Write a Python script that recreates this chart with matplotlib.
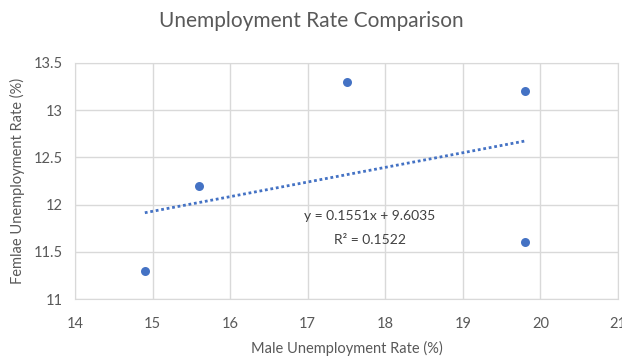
import numpy as np
import matplotlib
matplotlib.use("Agg")
import matplotlib.pyplot as plt

male_rate = [14.9, 15.6, 17.5, 19.8, 19.8]
female_rate = [11.3, 12.2, 13.3, 13.2, 11.6]
x_ticks = [14, 15, 16, 17, 18, 19, 20, 21]
y_ticks = [11, 11.5, 12, 12.5, 13, 13.5]
y_tick_labels = ["11", "11.5", "12", "12.5", "13", "13.5"]

plt.rcParams['font.family'] = ['Lato', 'DejaVu Sans']
text_color = "#595959"
grid_color = "#D9D9D9"
point_color = "#4472C4"

fig = plt.figure(figsize=(6.22, 3.62), dpi=100)
ax = fig.add_axes([0.1206, 0.174, 0.873, 0.652])

ax.scatter(male_rate, female_rate, s=42, color=point_color, zorder=3, linewidths=0)

# linear least-squares trendline
x = np.array(male_rate)
y = np.array(female_rate)
slope, intercept = np.polyfit(x, y, 1)
r2 = np.corrcoef(x, y)[0, 1] ** 2
xs = np.array([x.min(), x.max()])
ax.plot(xs, slope * xs + intercept, linestyle=(0, (1, 1)), color=point_color,
        linewidth=2.0, zorder=2)
ax.text(17.8, 11.88, f"y = {slope:.4f}x + {intercept:.4f}", ha="center", va="center",
        fontsize=10, color="#404040")
ax.text(17.8, 11.62, f"R² = {r2:.4f}", ha="center", va="center",
        fontsize=10, color="#404040")

ax.set_xlim(14, 21)
ax.set_ylim(11, 13.5)
ax.set_xticks(x_ticks)
ax.set_yticks(y_ticks)
ax.set_yticklabels(y_tick_labels)
ax.grid(True, color=grid_color, linewidth=1)
ax.set_axisbelow(True)
for s in ax.spines.values():
    s.set_color(grid_color)
ax.tick_params(length=0, labelsize=10.5, colors=text_color)
ax.tick_params(axis="x", pad=13)
ax.tick_params(axis="y", pad=9)

ax.set_xlabel("Male Unemployment Rate (%)", fontsize=10.5, color=text_color, labelpad=7)
ax.set_ylabel("Femlae Unemployment Rate (%)", fontsize=10.5, color=text_color, labelpad=6)
fig.suptitle("Unemployment Rate Comparison", fontsize=15, color=text_color, y=0.97)

fig.savefig("out.png", dpi=100)
